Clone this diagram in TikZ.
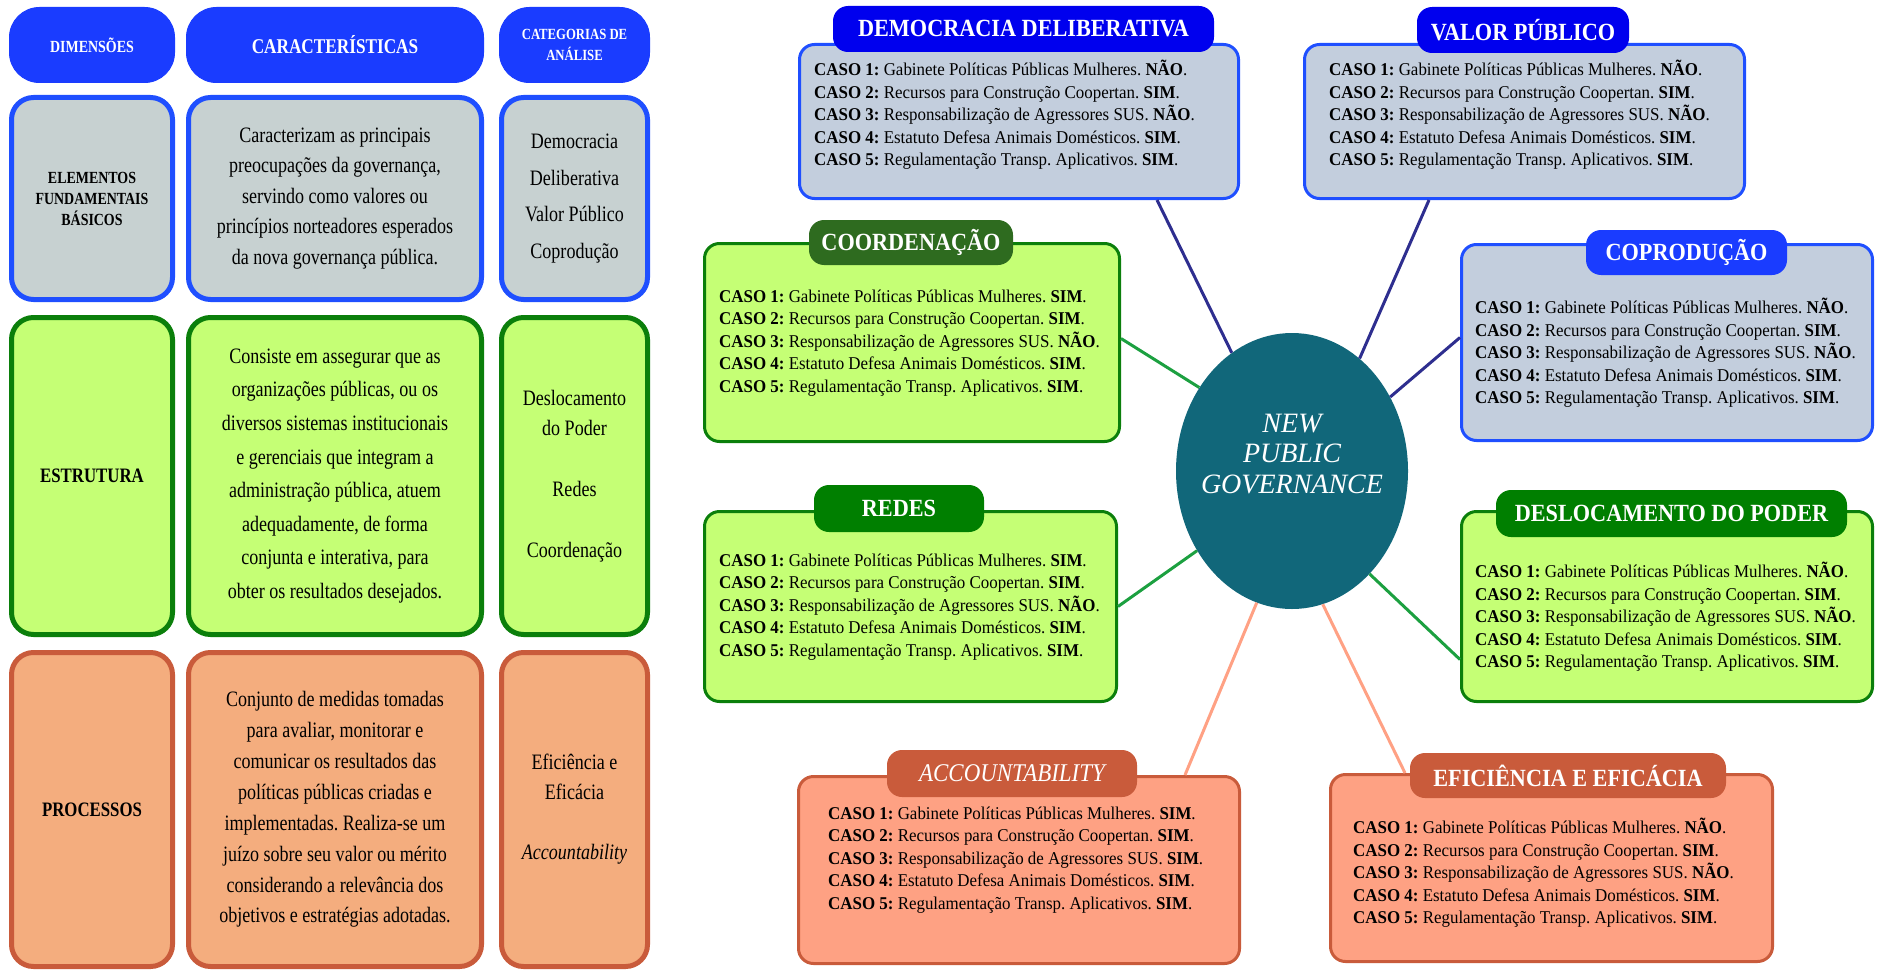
\documentclass[tikz,border=0pt]{standalone}
\usepackage{fontspec}
\setmainfont{Liberation Serif}
\newfontfamily\tabfont[FakeStretch=0.82]{Liberation Serif}
\newfontfamily\tabsfont[FakeStretch=0.9]{Liberation Serif}
\newfontfamily\casefont[FakeStretch=0.94]{Liberation Serif}
\usetikzlibrary{calc}
\usetikzlibrary{shapes.geometric}

\definecolor{hdrblue}{HTML}{1A3CFF}
\definecolor{tabblue}{HTML}{0000EE}
\definecolor{bordblue}{HTML}{1F4FFF}
\definecolor{fillgray}{HTML}{C7D1D1}
\definecolor{fillblue}{HTML}{C3CEDD}
\definecolor{bordgreen}{HTML}{0B7F0B}
\definecolor{fillgreen}{HTML}{C5FF75}
\definecolor{tabgreen}{HTML}{007F00}
\definecolor{tabdkgreen}{HTML}{2E6B1F}
\definecolor{bordorange}{HTML}{C95B3B}
\definecolor{fillorange}{HTML}{F4AD7E}
\definecolor{fillsalmon}{HTML}{FEA183}
\definecolor{npgteal}{HTML}{11677A}
\definecolor{lineblue}{HTML}{2E2E8F}
\definecolor{linegreen}{HTML}{1CA040}
\definecolor{linesalmon}{HTML}{FFA184}

% five cases of one category
\newcommand{\casos}[5]{%
  \textbf{CASO 1:} Gabinete Políticas Públicas Mulheres. \textbf{#1}.\\
  \textbf{CASO 2:} Recursos para Construção Coopertan. \textbf{#2}.\\
  \textbf{CASO 3:} Responsabilização de Agressores SUS. \textbf{#3}.\\
  \textbf{CASO 4:} Estatuto Defesa Animais Domésticos. \textbf{#4}.\\
  \textbf{CASO 5:} Regulamentação Transp. Aplicativos. \textbf{#5}.}

\tikzset{
  cell/.style={rectangle, rounded corners=22pt, line width=5pt, align=center, inner sep=0pt},
  hcell/.style={cell, draw=hdrblue, fill=hdrblue, line width=1pt, rounded corners=30pt, text=white},
  bluecell/.style={cell, draw=bordblue, fill=fillgray},
  greencell/.style={cell, draw=bordgreen, fill=fillgreen},
  orangecell/.style={cell, draw=bordorange, fill=fillorange},
  casebox/.style={rectangle, rounded corners=15pt, line width=3pt, inner sep=0pt},
  tab/.style={rectangle, rounded corners=15pt, inner sep=0pt, text=white,
    font=\tabsfont\bfseries\fontsize{24.7}{28}\selectfont},
  casetext/.style={anchor=west, align=left, inner sep=0pt,
    font=\casefont\fontsize{18}{22.5}\selectfont},
  link/.style={line width=3pt},
}

\begin{document}
\frenchspacing
\begin{tikzpicture}[x=1pt, y=-1pt]

    % frame of the picture
    \useasboundingbox (0,0) rectangle (1878,971);

    %% table
    \begin{scope}
        %%%%%%%%%%%%%%%%%%%%%%%%%%
        % header row
        %%%%%%%%%%%%%%%%%%%%%%%%%%
        \node[hcell, minimum width=165pt, minimum height=75pt, font=\tabfont\bfseries\fontsize{17}{20}\selectfont] (hdim) at (92,45) {DIMENSÕES};
        \node[hcell, minimum width=297pt, minimum height=75pt, font=\tabfont\bfseries\fontsize{21}{24}\selectfont] (hcar) at (335,45) {CARACTERÍSTICAS};
        \node[hcell, minimum width=150pt, minimum height=75pt, font=\tabfont\bfseries\fontsize{15.5}{21}\selectfont] (hcat) at (574.5,45) {CATEGORIAS DE\\ANÁLISE};

        %%%%%%%%%%%%%%%%%%%%%%%%%%
        % elementos fundamentais
        %%%%%%%%%%%%%%%%%%%%%%%%%%
        \node[bluecell, minimum width=161pt, minimum height=202pt, font=\tabfont\bfseries\fontsize{17}{21}\selectfont] (dim1) at (92,198.5) {ELEMENTOS\\FUNDAMENTAIS\\BÁSICOS};
        \node[bluecell, minimum width=293pt, minimum height=202pt, font=\tabfont\fontsize{22}{30.5}\selectfont] (car1) at (335,198.5) {Caracterizam as principais\\preocupações da governança,\\servindo como valores ou\\princípios norteadores esperados\\da nova governança pública.};
        \node[bluecell, minimum width=146pt, minimum height=202pt, font=\tabfont\fontsize{22}{36.7}\selectfont] (cat1) at (574.5,198.5) {Democracia\\Deliberativa\\Valor Público\\Coprodução};

        %%%%%%%%%%%%%%%%%%%%%%%%%%
        % estrutura
        %%%%%%%%%%%%%%%%%%%%%%%%%%
        \node[greencell, minimum width=161pt, minimum height=317pt, font=\tabfont\bfseries\fontsize{20.5}{24}\selectfont] (dim2) at (92,476) {ESTRUTURA};
        \node[greencell, minimum width=293pt, minimum height=317pt, font=\tabfont\fontsize{22}{33.6}\selectfont] (car2) at (335,476) {Consiste em assegurar que as\\organizações públicas, ou os\\diversos sistemas institucionais\\e gerenciais que integram a\\administração pública, atuem\\adequadamente, de forma\\conjunta e interativa, para\\obter os resultados desejados.};
        \node[greencell, minimum width=146pt, minimum height=317pt, font=\tabfont\fontsize{22}{30}\selectfont] (cat2) at (574.5,476) {Deslocamento\\do Poder\\[31pt]Redes\\[31pt]Coordenação};

        %%%%%%%%%%%%%%%%%%%%%%%%%%
        % processos
        %%%%%%%%%%%%%%%%%%%%%%%%%%
        \node[orangecell, minimum width=161pt, minimum height=314pt, font=\tabfont\bfseries\fontsize{20.5}{24}\selectfont] (dim3) at (92,809.5) {PROCESSOS};
        \node[orangecell, minimum width=293pt, minimum height=314pt, font=\tabfont\fontsize{22}{30.9}\selectfont] (car3) at (335,809.5) {Conjunto de medidas tomadas\\para avaliar, monitorar e\\comunicar os resultados das\\políticas públicas criadas e\\implementadas. Realiza-se um\\juízo sobre seu valor ou mérito\\considerando a relevância dos\\objetivos e estratégias adotadas.};
        \node[orangecell, minimum width=146pt, minimum height=314pt, font=\tabfont\fontsize{22}{30}\selectfont] (cat3) at (574.5,809.5) {Eficiência e\\Eficácia\\[30pt]\textit{Accountability}};
    \end{scope}

    %% map of the categories
    \begin{scope}
        % center
        \node[ellipse, fill=npgteal, minimum width=232pt, minimum height=276pt, inner sep=0pt] (npg) at (1292,471) {};
        \node[text=white, align=center, inner sep=0pt, font=\itshape\fontsize{28}{30.5}\selectfont] (npgtxt) at (1292,454) {NEW\\PUBLIC\\GOVERNANCE};

        %%%%%%%%%%%%%%%%%%%%%%%%%%
        % blue boxes
        %%%%%%%%%%%%%%%%%%%%%%%%%%
        \node[casebox, draw=bordblue, fill=fillblue, minimum width=439pt, minimum height=154pt] (dd) at (1019,121.5) {};
        \node[tab, fill=tabblue, minimum width=381pt, minimum height=46pt] (ddtab) at (1023.5,29) {DEMOCRACIA DELIBERATIVA};
        \node[casetext] (ddtxt) at (814,115) {\casos{NÃO}{SIM}{NÃO}{SIM}{SIM}};

        \node[casebox, draw=bordblue, fill=fillblue, minimum width=440pt, minimum height=154pt] (vp) at (1524.5,121.5) {};
        \node[tab, fill=tabblue, minimum width=212pt, minimum height=46pt] (vptab) at (1523,30) {VALOR PÚBLICO};
        \node[casetext] (vptxt) at (1329,115) {\casos{NÃO}{SIM}{NÃO}{SIM}{SIM}};

        \node[casebox, draw=bordblue, fill=fillblue, minimum width=411pt, minimum height=196pt] (cop) at (1667,342.5) {};
        \node[tab, fill=hdrblue, minimum width=201pt, minimum height=45pt] (coptab) at (1686.5,252.5) {COPRODUÇÃO};
        \node[casetext] (coptxt) at (1475,353) {\casos{NÃO}{SIM}{NÃO}{SIM}{SIM}};

        %%%%%%%%%%%%%%%%%%%%%%%%%%
        % green boxes
        %%%%%%%%%%%%%%%%%%%%%%%%%%
        \node[casebox, draw=bordgreen, fill=fillgreen, minimum width=415pt, minimum height=198pt] (coo) at (912,342.5) {};
        \node[tab, fill=tabdkgreen, minimum width=204pt, minimum height=45pt] (cootab) at (911,242.5) {COORDENAÇÃO};
        \node[casetext] (cootxt) at (719,343) {\casos{SIM}{SIM}{NÃO}{SIM}{SIM}};

        \node[casebox, draw=bordgreen, fill=fillgreen, minimum width=412pt, minimum height=190pt] (red) at (910.5,606.5) {};
        \node[tab, fill=tabgreen, minimum width=170pt, minimum height=47pt] (redtab) at (899,508.5) {REDES};
        \node[casetext] (redtxt) at (719,607) {\casos{SIM}{SIM}{NÃO}{SIM}{SIM}};

        \node[casebox, draw=bordgreen, fill=fillgreen, minimum width=411pt, minimum height=190pt] (des) at (1667,606.5) {};
        \node[tab, fill=tabgreen, minimum width=351pt, minimum height=47pt] (destab) at (1671.5,513.5) {DESLOCAMENTO DO PODER};
        \node[casetext] (destxt) at (1475,617) {\casos{NÃO}{SIM}{NÃO}{SIM}{SIM}};

        %%%%%%%%%%%%%%%%%%%%%%%%%%
        % orange boxes
        %%%%%%%%%%%%%%%%%%%%%%%%%%
        \node[casebox, draw=bordorange, fill=fillsalmon, minimum width=441pt, minimum height=187pt] (acc) at (1019,870) {};
        \node[tab, fill=bordorange, minimum width=250pt, minimum height=47pt, font=\tabsfont\itshape\fontsize{25.5}{28}\selectfont] (acctab) at (1012,773.5) {ACCOUNTABILITY};
        \node[casetext] (acctxt) at (828,860) {\casos{SIM}{SIM}{SIM}{SIM}{SIM}};

        \node[casebox, draw=bordorange, fill=fillsalmon, minimum width=442pt, minimum height=187pt] (efi) at (1551.5,868) {};
        \node[tab, fill=bordorange, minimum width=316pt, minimum height=45pt] (efitab) at (1568,775.5) {EFICIÊNCIA E EFICÁCIA};
        \node[casetext] (efitxt) at (1353,873) {\casos{NÃO}{SIM}{NÃO}{SIM}{SIM}};

        %%%%%%%%%%%%%%%%%%%%%%%%%%
        % links to the center
        %%%%%%%%%%%%%%%%%%%%%%%%%%
        \draw[link, lineblue] (npg.117.5) -- ([xshift=-83pt]dd.south east);
        \draw[link, lineblue] (npg.59.6) -- ([xshift=126pt]vp.south west);
        \draw[link, lineblue] (npg.37) -- ([yshift=5pt]cop.west);
        \draw[link, linegreen] (npg.138) -- ([yshift=4pt]coo.east);
        \draw[link, linegreen] (npg.220) -- (red.east);
        \draw[link, linegreen] (npg.307.4) -- ([yshift=-53pt]des.west);
        \draw[link, linesalmon] (npg.255.4) -- ([xshift=-56pt]acc.north east);
        \draw[link, linesalmon] (npg.283) -- ([xshift=76pt]efi.north west);
    \end{scope}
\end{tikzpicture}
\end{document}
